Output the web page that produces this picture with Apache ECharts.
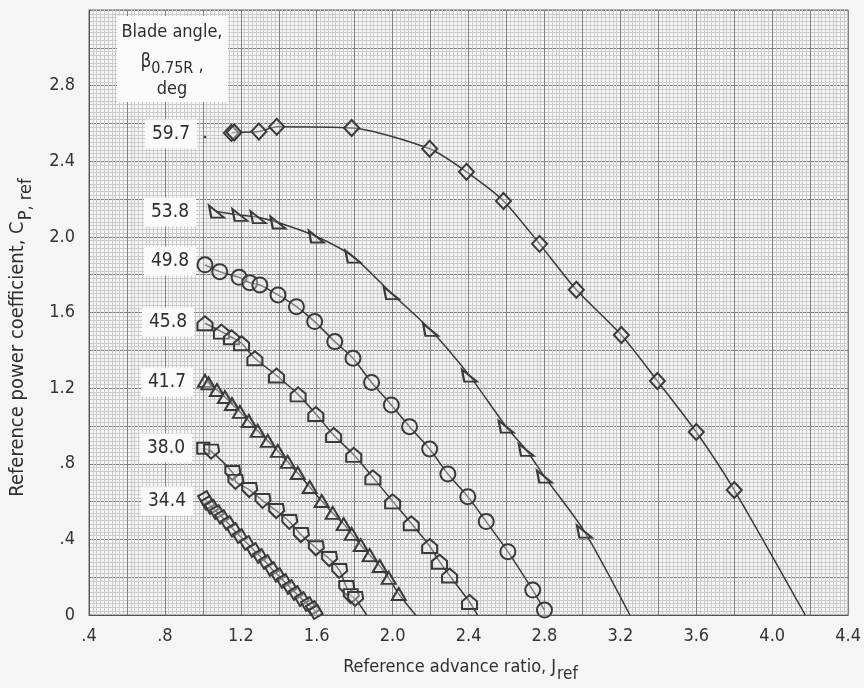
<!DOCTYPE html>
<html>
<head>
<meta charset="utf-8">
<script src="https://cdn.jsdelivr.net/npm/echarts@6/dist/echarts.min.js"></script>
<style>
html,body{margin:0;padding:0;background:#f5f5f5;}
#chart{width:864px;height:688px;}
</style>
</head>
<body>
<div id="chart"></div>
<script>
// ---- tick labels ----
const xTickLabels = ['.4', '.8', '1.2', '1.6', '2.0', '2.4', '2.8', '3.2', '3.6', '4.0', '4.4'];
const yTickLabels = ['0', '.4', '.8', '1.2', '1.6', '2.0', '2.4', '2.8'];

// ---- blade angles (deg) ----
const bladeAngles = ['59.7', '53.8', '49.8', '45.8', '41.7', '38.0', '34.4'];

// ---- measured points [J_ref, C_P,ref] ----
const pts597 = [[1.15, 2.550], [1.165, 2.552], [1.295, 2.557], [1.389, 2.582], [1.784, 2.576], [2.195, 2.466],
  [2.389, 2.344], [2.584, 2.190], [2.774, 1.963], [2.968, 1.720], [3.205, 1.481], [3.395, 1.238],
  [3.600, 0.968], [3.800, 0.661]];
const end597 = [4.174, 0];

const pts538 = [[1.072, 2.134], [1.195, 2.116], [1.291, 2.104], [1.396, 2.076], [1.598, 2.002], [1.791, 1.896],
  [1.993, 1.702], [2.200, 1.508], [2.405, 1.266], [2.598, 0.996], [2.704, 0.873], [2.800, 0.732],
  [3.011, 0.441]];
const end538 = [3.25, 0];

const pts498 = [[1.011, 1.852], [1.089, 1.816], [1.191, 1.786], [1.247, 1.758], [1.300, 1.746], [1.396, 1.693],
  [1.493, 1.631], [1.589, 1.552], [1.695, 1.446], [1.791, 1.358], [1.889, 1.230], [1.993, 1.111],
  [2.089, 0.996], [2.195, 0.878], [2.291, 0.746], [2.396, 0.626], [2.493, 0.494], [2.607, 0.335],
  [2.738, 0.132], [2.800, 0.026]];
const end498 = null;

const pts458 = [[1.011, 1.543], [1.098, 1.499], [1.151, 1.469], [1.204, 1.437], [1.274, 1.358], [1.388, 1.267],
  [1.502, 1.167], [1.595, 1.063], [1.689, 0.952], [1.795, 0.847], [1.896, 0.728], [2.000, 0.601],
  [2.098, 0.485], [2.195, 0.365], [2.247, 0.282], [2.300, 0.209], [2.405, 0.069]];
const end458 = [2.447, 0];

const pts417 = [[1.011, 1.238], [1.030, 1.225], [1.074, 1.190], [1.116, 1.153], [1.153, 1.116], [1.195, 1.074],
  [1.242, 1.026], [1.289, 0.974], [1.342, 0.921], [1.395, 0.868], [1.447, 0.810], [1.500, 0.751],
  [1.563, 0.677], [1.626, 0.603], [1.684, 0.540], [1.742, 0.481], [1.784, 0.429], [1.832, 0.370],
  [1.879, 0.317], [1.932, 0.259], [1.979, 0.196], [2.032, 0.111]];
const end417 = [2.121, 0];

const pts380 = [[1.002, 0.882], [1.046, 0.864], [1.158, 0.751], [1.174, 0.704], [1.247, 0.661], [1.317, 0.603],
  [1.389, 0.550], [1.458, 0.492], [1.519, 0.423], [1.598, 0.353], [1.668, 0.296], [1.721, 0.233],
  [1.758, 0.143], [1.782, 0.100], [1.805, 0.085]];
const end380 = [1.863, 0];

const pts344 = [[1.011, 0.619], [1.026, 0.593], [1.047, 0.571], [1.074, 0.545], [1.100, 0.519], [1.132, 0.487],
  [1.163, 0.450], [1.195, 0.418], [1.232, 0.381], [1.268, 0.344], [1.300, 0.312], [1.332, 0.280],
  [1.363, 0.243], [1.395, 0.212], [1.426, 0.180], [1.458, 0.148], [1.489, 0.116], [1.521, 0.085],
  [1.553, 0.058], [1.579, 0.037], [1.595, 0.016]];
const end344 = null;

const INK = '#3a3a3a';
const TXT = '#2e2e2e';
const FONT = '"DejaVu Sans Condensed", "Liberation Sans Narrow", "DejaVu Sans", sans-serif';

const symbols = {
  '59.7': {symbol: 'diamond', size: [15, 16]},
  '53.8': {symbol: 'path://M0,0 L2,10 L13,10 Z', size: [15, 12]},
  '49.8': {symbol: 'circle', size: 15},
  '45.8': {symbol: 'path://M6,0 L12,5 L12,11 L0,11 L0,5 Z', size: [15, 14]},
  '41.7': {symbol: 'triangle', size: [14, 12]},
  '38.0': {symbol: 'path://M0,0 L12,0 L13,6 L6,12 L0,6 Z', size: [15, 14]},
  '34.4': {symbol: 'rect', size: [10, 10], rotate: 30}
};

function makeSeries(name, pts, end, firstSymbol) {
  const s = symbols[name];
  const data = pts.map((p, i) => {
    const d = {value: p};
    if (i === 0 && firstSymbol) { d.symbol = firstSymbol; d.symbolSize = [12, 11]; d.symbolRotate = 0; }
    return d;
  });
  if (end) data.push({value: end, symbol: 'none'});
  return {
    name: name,
    type: 'line',
    data: data,
    smooth: 0.25,
    symbol: s.symbol,
    symbolSize: s.size,
    symbolRotate: s.rotate || 0,
    showSymbol: true,
    showAllSymbol: true,
    lineStyle: {color: INK, width: 1.5},
    itemStyle: {color: 'rgba(245,245,245,0.35)', borderColor: INK, borderWidth: 2},
    emphasis: {disabled: true},
    animation: false,
    z: 5
  };
}

// text measuring helper for placing subscripts
const mctx = document.createElement('canvas').getContext('2d');
function tw(text, font) { mctx.font = font; return mctx.measureText(text).width; }

const chart = echarts.init(document.getElementById('chart'), null, {renderer: 'canvas'});

const labelPos = {
  '59.7': [171, 134], '53.8': [170, 212], '49.8': [170, 261], '45.8': [168, 322],
  '41.7': [167, 382], '38.0': [166, 448], '34.4': [167, 501]
};

const graphics = [];
bladeAngles.forEach(a => {
  const p = labelPos[a];
  graphics.push({
    type: 'text', x: p[0], y: p[1], z: 10,
    style: {
      text: a, font: '19px ' + FONT, fill: TXT, align: 'center', verticalAlign: 'middle',
      backgroundColor: '#fafafa', padding: [5, 7, 5, 7]
    }
  });
});
// small dot after 59.7
graphics.push({type: 'circle', shape: {cx: 205, cy: 137, r: 1.3}, style: {fill: '#444'}, z: 10});
// legend heading box
graphics.push({type: 'rect', shape: {x: 117, y: 16, width: 111, height: 86}, style: {fill: '#fafafa'}, z: 9});
graphics.push({type: 'text', x: 172, y: 32, z: 10,
  style: {text: 'Blade angle,', font: '18px ' + FONT, fill: TXT, align: 'center', verticalAlign: 'middle'}});
(function () {
  const fB = '19px ' + FONT, fS = '16px ' + FONT, fC = '18px ' + FONT;
  const wB = tw('β', fB), wS = tw('0.75R', fS), wC = tw(' ,', fC);
  let x0 = 172 - (wB + wS + wC) / 2;
  graphics.push({type: 'text', x: x0, y: 62, z: 10,
    style: {text: 'β', font: fB, fill: TXT, align: 'left', verticalAlign: 'middle'}});
  graphics.push({type: 'text', x: x0 + wB, y: 69, z: 10,
    style: {text: '0.75R', font: fS, fill: TXT, align: 'left', verticalAlign: 'middle'}});
  graphics.push({type: 'text', x: x0 + wB + wS, y: 66, z: 10,
    style: {text: ' ,', font: fC, fill: TXT, align: 'left', verticalAlign: 'middle'}});
})();
graphics.push({type: 'text', x: 172, y: 89, z: 10,
  style: {text: 'deg', font: '18px ' + FONT, fill: TXT, align: 'center', verticalAlign: 'middle'}});

// x axis title with subscript
(function () {
  const fM = '18px ' + FONT, fS = '17px ' + FONT;
  const main = 'Reference advance ratio, J', sub = 'ref';
  const wM = tw(main, fM), wS = tw(sub, fS);
  const x0 = 460 - (wM + wS) / 2;
  graphics.push({type: 'text', x: x0, y: 667, z: 10,
    style: {text: main, font: fM, fill: TXT, align: 'left', verticalAlign: 'middle'}});
  graphics.push({type: 'text', x: x0 + wM + 1, y: 675, z: 10,
    style: {text: sub, font: fS, fill: TXT, align: 'left', verticalAlign: 'middle'}});
})();
// y axis title (rotated) with subscript
(function () {
  const fM = '20px ' + FONT, fS = '18px ' + FONT;
  const main = 'Reference power coefficient, C', sub = 'P, ref';
  const wM = tw(main, fM), wS = tw(sub, fS);
  const yb = 338 + (wM + wS) / 2;
  graphics.push({type: 'text', x: 18, y: yb, rotation: Math.PI / 2, z: 10,
    style: {text: main, font: fM, fill: TXT, align: 'left', verticalAlign: 'middle'}});
  graphics.push({type: 'text', x: 26, y: yb - wM - 1, rotation: Math.PI / 2, z: 10,
    style: {text: sub, font: fS, fill: TXT, align: 'left', verticalAlign: 'middle'}});
})();

const option = {
  backgroundColor: '#f5f5f5',
  animation: false,
  grid: {left: 89, right: 15, top: 10, bottom: 73, show: true, borderColor: '#666', borderWidth: 1},
  xAxis: {
    type: 'value', min: 0.4, max: 4.4, interval: 0.2,
    axisLine: {show: true, lineStyle: {color: '#555'}},
    axisTick: {show: false},
    axisLabel: {
      fontSize: 18, fontFamily: FONT, color: '#333', margin: 12,
      formatter: v => {
        const k = Math.round(v * 10);
        if (k % 4 !== 0) return '';
        return xTickLabels[Math.round((k - 4) / 4)] || '';
      }
    },
    splitLine: {show: true, lineStyle: {color: '#808080', width: 1}},
    minorTick: {show: false, splitNumber: 10},
    minorSplitLine: {show: true, lineStyle: {color: '#cccccc', width: 1}}
  },
  yAxis: {
    type: 'value', min: 0, max: 3.2, interval: 0.2,
    axisLine: {show: true, lineStyle: {color: '#555'}},
    axisTick: {show: false},
    axisLabel: {
      fontSize: 18, fontFamily: FONT, color: '#333', margin: 14,
      formatter: v => {
        const k = Math.round(v * 10);
        if (k % 4 !== 0) return '';
        return yTickLabels[Math.round(k / 4)] || '';
      }
    },
    splitLine: {show: true, lineStyle: {color: '#808080', width: 1}},
    minorTick: {show: false, splitNumber: 10},
    minorSplitLine: {show: true, lineStyle: {color: '#cccccc', width: 1}}
  },
  graphic: graphics,
  series: [
    makeSeries('59.7', pts597, end597),
    makeSeries('53.8', pts538, end538),
    makeSeries('49.8', pts498, end498),
    makeSeries('45.8', pts458, end458),
    makeSeries('41.7', pts417, end417),
    makeSeries('38.0', pts380, end380, 'rect'),
    makeSeries('34.4', pts344, end344)
  ]
};
chart.setOption(option);
</script>
</body>
</html>
